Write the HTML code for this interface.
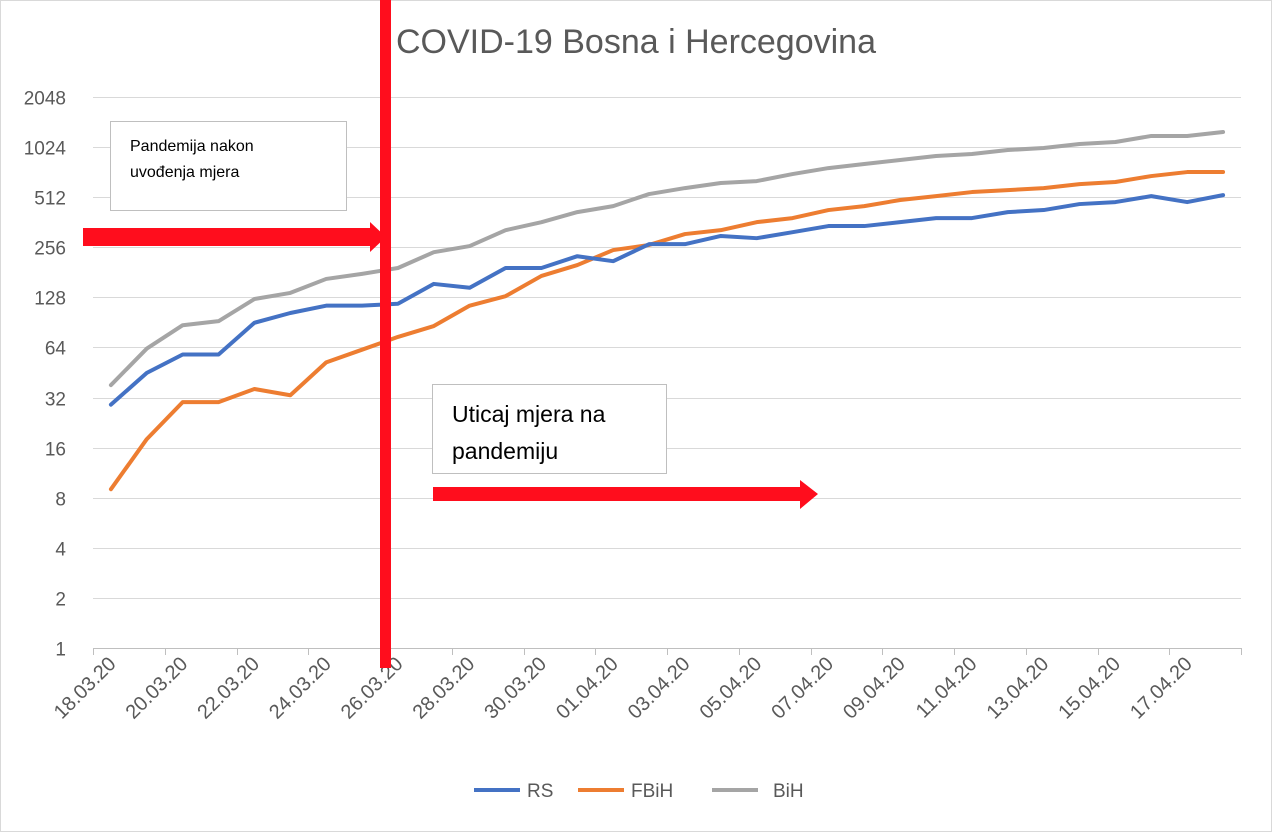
<!DOCTYPE html>
<html><head><meta charset="utf-8"><style>
body{margin:0;background:#fff;font-family:"Liberation Sans",sans-serif}
svg{display:block}
</style></head><body>
<svg width="1272" height="832">
<rect x="0.5" y="0.5" width="1271" height="831" fill="#fff" stroke="#d9d9d9"/>
<text x="636" y="53" text-anchor="middle" font-size="34" fill="#595959">COVID-19 Bosna i Hercegovina</text>
<g id="grid"></g><g id="ylabels"></g><g id="xaxis"></g><g id="series"></g>
<g>
<rect x="110.5" y="121.5" width="236" height="89" fill="#fff" stroke="#bfbfbf"/>
<text x="130" y="151" font-size="16" fill="#000">Pandemija nakon</text>
<text x="130" y="177" font-size="16" fill="#000">uvođenja mjera</text>
<rect x="432.5" y="384.5" width="234" height="89" fill="#fff" stroke="#bfbfbf"/>
<text x="452" y="422" font-size="23" fill="#000">Uticaj mjera na</text>
<text x="452" y="459" font-size="23" fill="#000">pandemiju</text>
<polygon points="83,228 370,228 370,222 386,237 370,252 370,246 83,246" fill="#ff0d1d"/>
<polygon points="433,487 800,487 800,480 818,494 800,509 800,501 433,501" fill="#ff0d1d"/>
<rect x="380" y="0" width="11" height="668" fill="#ff0d1d"/>
</g>
<g>
<line x1="474" y1="790" x2="520" y2="790" stroke="#4472c4" stroke-width="4"/>
<text x="527" y="797" font-size="19" fill="#595959">RS</text>
<line x1="578" y1="790" x2="624" y2="790" stroke="#ed7d31" stroke-width="4"/>
<text x="631" y="797" font-size="19" fill="#595959">FBiH</text>
<line x1="712" y1="790" x2="758" y2="790" stroke="#a5a5a5" stroke-width="4"/>
<text x="773" y="797" font-size="19" fill="#595959">BiH</text>
</g>
</svg>
<script>
const dates=["18.03.20","19.03.20","20.03.20","21.03.20","22.03.20","23.03.20","24.03.20","25.03.20","26.03.20","27.03.20","28.03.20","29.03.20","30.03.20","31.03.20","01.04.20","02.04.20","03.04.20","04.04.20","05.04.20","06.04.20","07.04.20","08.04.20","09.04.20","10.04.20","11.04.20","12.04.20","13.04.20","14.04.20","15.04.20","16.04.20","17.04.20","18.04.20"];
const rs=[29,45,58,58,90,103,114,114,117,154,146,192,192,226,211,267,267,299,290,315,343,343,362,383,383,416,428,465,478,519,478,526];
const fbih=[9,18,30,30,36,33,52,62,74,86,114,130,172,200,246,264,307,324,362,383,428,452,492,519,549,564,580,613,631,685,724,724];
const bih=[38,63,87,92,125,136,165,177,192,239,260,324,362,416,452,534,580,622,639,704,765,809,855,904,929,982,1010,1067,1097,1193,1193,1260];
const yTicks=[1,2,4,8,16,32,64,128,256,512,1024,2048];
const NS="http://www.w3.org/2000/svg";
const X0=93,X1=1241,Y1=648,PER=50.1;
const bw=(X1-X0)/dates.length;
const xs=i=>X0+bw*(i+0.5);
const ys=v=>Y1-Math.log2(v)*PER;
function mk(t,a,p){const e=document.createElementNS(NS,t);for(const k in a)e.setAttribute(k,a[k]);p.appendChild(e);return e;}
const grid=document.getElementById('grid'),yl=document.getElementById('ylabels'),xa=document.getElementById('xaxis'),se=document.getElementById('series');
yTicks.forEach(v=>{const y=Math.round(ys(v))+0.5;
 const g=mk('line',{x1:X0,x2:X1,y1:y,y2:y,stroke:v===1?'#bfbfbf':'#d9d9d9','stroke-width':1},grid);
 
 
 const t=mk('text',{x:66,y:y+7,'text-anchor':'end','font-size':19,fill:'#595959'},yl);
 
 
 t.textContent=v;});
for(let i=0;i<=dates.length;i+=2){const x=Math.round(X0+bw*i)+0.5;
 const l=mk('line',{x1:x,x2:x,y1:Y1,y2:Y1+7,stroke:'#bfbfbf'},xa);
 
 }
dates.forEach((d,i)=>{if(i%2)return;const x=xs(i)+6,y=Y1+17;
 const t=mk('text',{x:x,y:y,'text-anchor':'end','font-size':20,fill:'#595959',transform:`rotate(-45 ${x} ${y})`},xa);
 
 
 t.textContent=d;});
[[bih,'#a5a5a5','line-bih'],[fbih,'#ed7d31','line-fbih'],[rs,'#4472c4','line-rs']].forEach(([arr,c,n])=>{
 const p=mk('polyline',{points:arr.map((v,i)=>xs(i)+','+ys(v)).join(' '),fill:'none',stroke:c,'stroke-width':4,'stroke-linejoin':'round','stroke-linecap':'round'},se);
 
 });
</script>
</body></html>
